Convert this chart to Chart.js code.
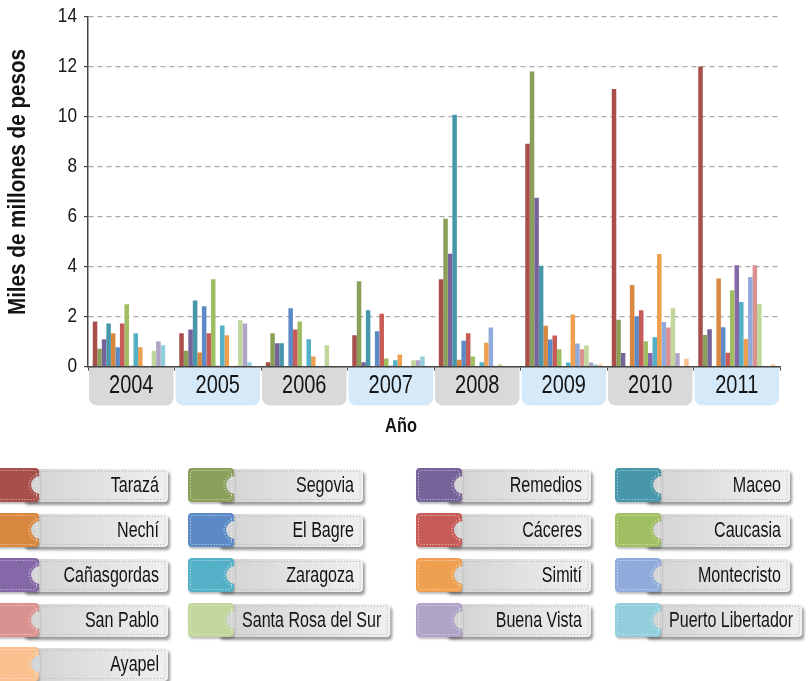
<!DOCTYPE html>
<html>
<head>
<meta charset="utf-8">
<script src="https://cdn.jsdelivr.net/npm/chart.js@4.4.1/dist/chart.umd.min.js"></script>
<style>
  html, body { margin: 0; padding: 0; background: #fff; }
  #wrap { width: 808px; height: 681px; }
</style>
</head>
<body>
<div id="wrap"><canvas id="chart" width="808" height="681"></canvas></div>
<script>
// Years on the x axis
const years = ["2004", "2005", "2006", "2007", "2008", "2009", "2010", "2011"]

// Municipalities, in legend order
const municipios = [
  "Tarazá", "Segovia", "Remedios", "Maceo",
  "Nechí", "El Bagre", "Cáceres", "Caucasia",
  "Cañasgordas", "Zaragoza", "Simití", "Montecristo",
  "San Pablo", "Santa Rosa del Sur", "Buena Vista", "Puerto Libertador",
  "Ayapel",
]

// Values (miles de millones de pesos), one array per municipality
const taraza = [1.8, 1.33, 0.17, 1.25, 3.49, 8.91, 11.1, 12.0]
const segovia = [0.71, 0.63, 1.33, 3.41, 5.91, 11.8, 1.87, 1.26]
const remedios = [1.09, 1.48, 0.93, 0.17, 4.51, 6.75, 0.54, 1.49]
const maceo = [1.72, 2.64, 0.93, 2.25, 10.07, 4.03, 0.02, 0.02]
const nechi = [1.33, 0.56, 0, 0, 0.27, 1.63, 3.26, 3.52]
const elBagre = [0.77, 2.41, 2.33, 1.41, 1.03, 1.08, 2.01, 1.57]
const caceres = [1.72, 1.33, 1.48, 2.11, 1.33, 1.24, 2.25, 0.55]
const caucasia = [2.49, 3.49, 1.8, 0.32, 0.4, 0.69, 1.01, 3.05]
const canasgordas = [0.03, 0.03, 0, 0.03, 0.02, 0.02, 0.54, 4.05]
const zaragoza = [1.33, 1.64, 1.09, 0.25, 0.17, 0.16, 1.17, 2.58]
const simiti = [0.77, 1.25, 0.4, 0.48, 0.95, 2.08, 4.5, 1.1]
const montecristo = [0, 0, 0, 0, 1.56, 0.92, 1.78, 3.58]
const sanPablo = [0.02, 0.03, 0, 0, 0, 0.69, 1.56, 4.05]
const santaRosa = [0.63, 1.85, 0.85, 0.25, 0.09, 0.84, 2.33, 2.5]
const buenaVista = [1.01, 1.72, 0.02, 0.25, 0.02, 0.16, 0.54, 0]
const puertoLibertador = [0.85, 0.17, 0.02, 0.4, 0.02, 0.08, 0, 0]
const ayapel = [0.02, 0.02, 0, 0, 0.02, 0.08, 0.31, 0.08]

const series = [
  taraza, segovia, remedios, maceo,
  nechi, elBagre, caceres, caucasia,
  canasgordas, zaragoza, simiti, montecristo,
  sanPablo, santaRosa, buenaVista, puertoLibertador,
  ayapel,
]

const colors = [
  "#a84f4c", "#8aa05a", "#76639a", "#4796aa",
  "#d8873e", "#5b8ac6", "#c75b57", "#a0bf62",
  "#8468a8", "#54b0c6", "#ee9f50", "#8faadb",
  "#da9290", "#c1d69a", "#b0a3c8", "#92cddc",
  "#fac090",
]

const yTicks = [0, 2, 4, 6, 8, 10, 12, 14]

const FONT = "'Liberation Sans', Arial, sans-serif"

// the reference uses a condensed face; squeeze Liberation Sans horizontally
function narrowText(ctx, text, x, y, font, align, sx, rotate) {
  ctx.save()
  ctx.font = font
  ctx.fillStyle = "#141414"
  ctx.textAlign = align
  ctx.textBaseline = "middle"
  ctx.translate(x, y)
  if (rotate) ctx.rotate(-Math.PI / 2)
  ctx.scale(sx, 1)
  ctx.fillText(text, 0, 0)
  ctx.restore()
}

// Rounded label boxes under each year
const yearBoxes = {
  id: "yearBoxes",
  beforeDraw(chart) {
    const { ctx, chartArea, scales } = chart
    const x = scales.x
    const step = (chartArea.right - chartArea.left) / years.length
    ctx.save()
    years.forEach((y, i) => {
      const cx = x.getPixelForValue(i)
      ctx.fillStyle = i % 2 === 0 ? "#d9d9d9" : "#d5e9f8"
      ctx.beginPath()
      ctx.roundRect(cx - step / 2 + 1, chartArea.bottom, step - 2, 39, [0, 0, 8, 8])
      ctx.fill()
    })
    ctx.restore()
  },
}

// Axis texts
const axisText = {
  id: "axisText",
  afterDraw(chart) {
    const { ctx, chartArea, scales } = chart
    years.forEach((y, i) => {
      narrowText(ctx, y, scales.x.getPixelForValue(i), 386, "25px " + FONT, "center", 0.8)
    })
    yTicks.forEach((v) => {
      narrowText(ctx, String(v), 77, scales.y.getPixelForValue(v), "21px " + FONT, "right", 0.82)
    })
    narrowText(ctx, "Miles de millones de pesos", 18, 182,
      "bold 24px " + FONT, "center", 0.86, true)
    narrowText(ctx, "Año", 401, 426, "bold 20px " + FONT, "center", 0.82)
  },
}

// Tag-style legend drawn under the chart
const tagLegend = {
  id: "tagLegend",
  afterDraw(chart) {
    const { ctx } = chart
    const colX = [-7, 188, 416, 615]
    const rowY = [468, 513, 558, 603, 647]
    const h = 34
    const blockW = 46
    const sx = 0.73
    const font = "22px " + FONT
    ctx.save()
    chart.data.datasets.forEach((ds, i) => {
      const x = colX[i % 4]
      const top = rowY[Math.floor(i / 4)]
      const cy = top + h / 2
      ctx.font = font
      const textW = ctx.measureText(ds.label).width * sx
      const w = Math.max(175, blockW + 8 + textW + 9)

      // gray body
      ctx.save()
      ctx.shadowColor = "rgba(0,0,0,0.4)"
      ctx.shadowOffsetX = 2
      ctx.shadowOffsetY = 3
      ctx.shadowBlur = 3
      const g = ctx.createLinearGradient(x + 30, 0, x + w, 0)
      g.addColorStop(0, "#d2d2d2")
      g.addColorStop(1, "#f0f0f0")
      ctx.fillStyle = g
      ctx.beginPath()
      ctx.roundRect(x + 30, top + 1, w - 30, h - 1, 4)
      ctx.fill()
      ctx.restore()

      // colour block
      ctx.save()
      ctx.shadowColor = "rgba(0,0,0,0.25)"
      ctx.shadowOffsetX = 1
      ctx.shadowOffsetY = 2
      ctx.shadowBlur = 2
      ctx.fillStyle = ds.backgroundColor
      ctx.beginPath()
      ctx.roundRect(x, top, blockW, h, 4)
      ctx.fill()
      ctx.restore()

      // notch
      ctx.fillStyle = "#d4d4d4"
      ctx.beginPath()
      ctx.arc(x + blockW + 1, cy, 9, Math.PI * 0.5, Math.PI * 1.5)
      ctx.fill()

      // stitching
      ctx.setLineDash([1, 2])
      ctx.lineWidth = 1
      ctx.strokeStyle = "rgba(255,255,255,0.7)"
      ctx.beginPath()
      ctx.roundRect(x + 2.5, top + 2.5, blockW - 5, h - 5, 3)
      ctx.stroke()
      ctx.strokeStyle = "#b5b5b5"
      ctx.beginPath()
      ctx.moveTo(x + blockW + 2, top + 3.5)
      ctx.lineTo(x + w - 3, top + 3.5)
      ctx.lineTo(x + w - 3, top + h - 2.5)
      ctx.lineTo(x + blockW + 2, top + h - 2.5)
      ctx.stroke()
      ctx.strokeStyle = "rgba(255,255,255,0.85)"
      ctx.beginPath()
      ctx.arc(x + blockW + 1, cy, 11, Math.PI * 0.5, Math.PI * 1.5)
      ctx.stroke()
      ctx.setLineDash([])

      narrowText(ctx, ds.label, x + w - 9, cy + 1, font, "right", sx)
    })
    ctx.restore()
  },
}

const ctx = document.getElementById("chart").getContext("2d")

new Chart(ctx, {
  type: "bar",
  data: {
    labels: years,
    datasets: municipios.map((name, i) => ({
      label: name,
      data: series[i],
      backgroundColor: colors[i],
      borderWidth: 0,
      categoryPercentage: 0.89,
      barPercentage: 1.0,
    })),
  },
  options: {
    responsive: false,
    animation: false,
    layout: {
      padding: { top: 16.5, right: 28, bottom: 310.5, left: 0 },
    },
    plugins: {
      legend: { display: false },
      tooltip: { enabled: false },
    },
    scales: {
      x: {
        grid: {
          offset: true,
          drawOnChartArea: false,
          drawTicks: true,
          tickLength: 4,
          tickColor: "#444",
        },
        border: { color: "#444", width: 1.5 },
        ticks: { display: false },
      },
      y: {
        min: 0,
        max: 14,
        afterBuildTicks: (scale) => {
          scale.ticks = yTicks.map((v) => ({ value: v }))
        },
        afterFit: (scale) => {
          scale.width = 88
        },
        grid: {
          color: "#aaaaaa",
          lineWidth: 1.2,
          tickLength: 4,
          tickColor: "#444",
          tickBorderDash: [],
        },
        border: { color: "#444", width: 1.5, dash: [5, 4] },
        ticks: { display: false },
      },
    },
  },
  plugins: [yearBoxes, axisText, tagLegend],
})
</script>
</body>
</html>
